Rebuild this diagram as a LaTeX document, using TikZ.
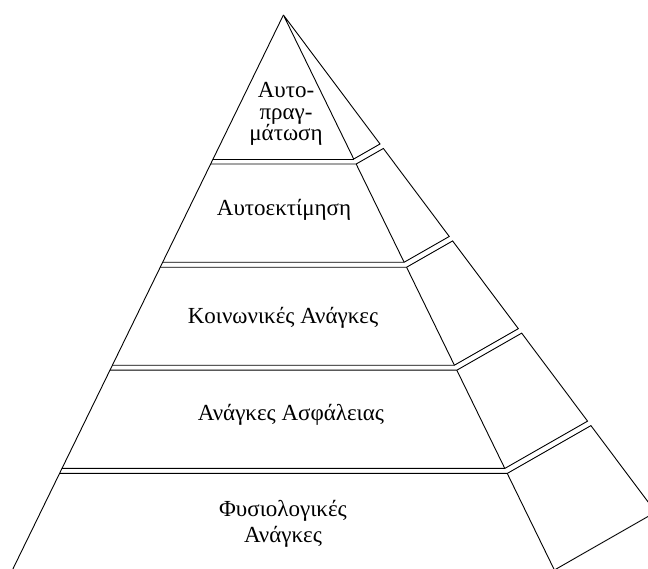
\documentclass[tikz,border=0pt]{standalone}
\usepackage{fontspec}
\setmainfont{Liberation Serif}
\usetikzlibrary{calc}
\tikzset{
  level edge/.style = {draw=black, line width=0.9pt, line join=miter},
  level text/.style = {font=\fontsize{23}{21.5}\selectfont, align=center, inner sep=0pt}
}

\begin{document}
\begin{tikzpicture}[x=1pt,y=-1pt]
  \useasboundingbox (0,0) rectangle (648,569);
  \clip (0,0) rectangle (648,569);
  \coordinate (apex) at (283.4,15);
  \coordinate (fl) at (12.4,570);
  \coordinate (fr) at (554.4,570);
  \coordinate (br) at (655.7,512.1);
  \draw[level edge] (apex) -- (fl);
  % top block
  \draw[level edge] (apex) -- ($(apex)!0.2595!(fr)$) -- ($(apex)!0.2595!(br)$) -- cycle;
  \draw[level edge] ($(apex)!0.2595!(fl)$) -- ($(apex)!0.2595!(fr)$);
  % lower blocks
  \foreach \ta/\tb in {0.2685/0.4455, 0.4545/0.631, 0.640/0.817, 0.826/1.0}{
    \draw[level edge] ($(apex)!\ta!(fl)$) -- ($(apex)!\ta!(fr)$) -- ($(apex)!\ta!(br)$)
      -- ($(apex)!\tb!(br)$) -- ($(apex)!\tb!(fr)$) -- ($(apex)!\tb!(fl)$);
    \draw[level edge] ($(apex)!\ta!(fr)$) -- ($(apex)!\tb!(fr)$);
  }
  \node[level text] (selfact) at (286,114) {Αυτο-\\πραγ-\\μάτωση};
  \node[level text, anchor=base] (esteem) at (284,216) {Αυτοεκτίμηση};
  \node[level text, anchor=base] (social) at (283,323.3) {Κοινωνικές Ανάγκες};
  \node[level text, anchor=base] (safety) at (291,420.7) {Ανάγκες Ασφάλειας};
  \node[level text, font=\fontsize{23}{26}\selectfont] (physio) at (283,524)
    {Φυσιολογικές\\Ανάγκες};
\end{tikzpicture}
\end{document}
